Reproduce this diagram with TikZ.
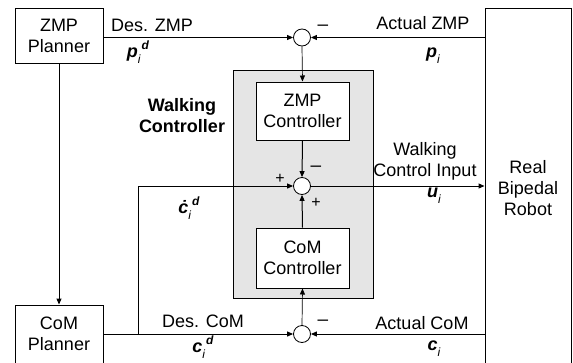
\documentclass[tikz,border=0pt]{standalone}
\usepackage{fontspec}
\setmainfont{Liberation Sans}
\usetikzlibrary{arrows.meta}
\newcommand{\vlab}[3]{\textbf{\textit{#1}}\rlap{\raisebox{-0.6ex}{\fontsize{12}{12}\selectfont\textit{#2}}}\hspace{0.2em}\raisebox{0.8ex}{\fontsize{12}{12}\selectfont\textbf{\textit{#3}}}}
\newcommand{\vlabs}[2]{\textbf{\textit{#1}}\raisebox{-0.6ex}{\fontsize{12}{12}\selectfont\textit{#2}}}
\begin{document}
\begin{tikzpicture}[x=1pt,y=-1pt,
  every node/.style={font=\fontsize{18}{21}\selectfont},
  box/.style={draw, line width=1pt, fill=white, align=center, inner sep=0pt},
  sumj/.style={draw, circle, line width=0.8pt, fill=white, minimum size=17pt, inner sep=0pt},
  arr/.style={line width=1pt, -{Triangle[length=6pt,width=5pt]}},
  lbl/.style={align=center, inner sep=0pt},
  sgn/.style={inner sep=0pt, font=\fontsize{16}{16}\selectfont}]
\clip (0,0) rectangle (573,362);
\fill[white] (0,0) rectangle (573,362);
% boxes
\node[box, minimum width=88pt, minimum height=55pt] (zp) at (59,35.5) {ZMP\\Planner};
\node[box, minimum width=88pt, minimum height=58pt] (cp) at (59,334) {CoM\\Planner};
\node[box, minimum width=86pt, minimum height=360pt] (rob) at (528,188) {Real\\Bipedal\\Robot};
\node[draw, line width=1pt, fill=black!10, minimum width=140pt, minimum height=228pt, inner sep=0pt] (wc) at (303,184) {};
\node[box, minimum width=93pt, minimum height=58pt] (zc) at (302.5,111) {ZMP\\Controller};
\node[box, minimum width=93pt, minimum height=60pt] (cc) at (302.5,258) {CoM\\Controller};
% summing junctions
\node[sumj] (s1) at (302,37.5) {};
\node[sumj] (s2) at (302,186) {};
\node[sumj] (s3) at (302,334) {};
% connectors
\draw[arr] (zp.east |- s1) -- (s1.west);
\draw[arr] (rob.west |- s1) -- (s1.east);
\draw[arr, line width=0.7pt] (s1.south) -- (zc.north);
\draw[arr] (zc.south) -- (s2.north);
\draw[arr] (cc.north) -- (s2.south);
\draw[arr] (s2.east) -- (rob.west |- s2);
\draw[arr, line width=0.7pt] (s3.north) -- (cc.south);
\draw[arr] (cp.east |- s3) -- (s3.west);
\draw[arr] (rob.west |- s3) -- (s3.east);
\draw[arr] (zp.south) -- (cp.north);
\coordinate (br) at (138,334);
\draw[arr] (br) -- (br |- s2) -- (s2.west);
% labels
\node[lbl] (l1) at (152,25) {Des. ZMP};
\node[lbl] (l2) at (138,52) {\vlab{p}{i}{d}};
\node[lbl] (l3) at (423,23) {Actual ZMP};
\node[lbl] (l4) at (433,56) {\vlabs{p}{i}};
\node[lbl, font=\fontsize{18}{21}\selectfont\bfseries] (l5) at (182,116) {Walking\\Controller};
\node[lbl] (l6) at (425,161) {Walking\\Control Input};
\node[lbl] (l7) at (434,196) {\vlabs{u}{i}};
\node[lbl] (l8) at (189,208) {\vlab{\.c}{i}{d}};
\node[lbl] (l9) at (203,321) {Des. CoM};
\node[lbl] (l10) at (203,347) {\vlab{c}{i}{d}};
\node[lbl] (l11) at (422,323) {Actual CoM};
\node[lbl] (l12) at (434,349) {\vlabs{c}{i}};
% signs
\node[sgn, font=\fontsize{19}{19}\selectfont] (m1) at (323,28) {–};
\node[sgn, font=\fontsize{19}{19}\selectfont] (m2) at (316,169) {–};
\node[sgn] (p1) at (280,179) {+};
\node[sgn] (p2) at (316,203) {+};
\node[sgn, font=\fontsize{19}{19}\selectfont] (m3) at (323,323) {–};
\end{tikzpicture}
\end{document}
